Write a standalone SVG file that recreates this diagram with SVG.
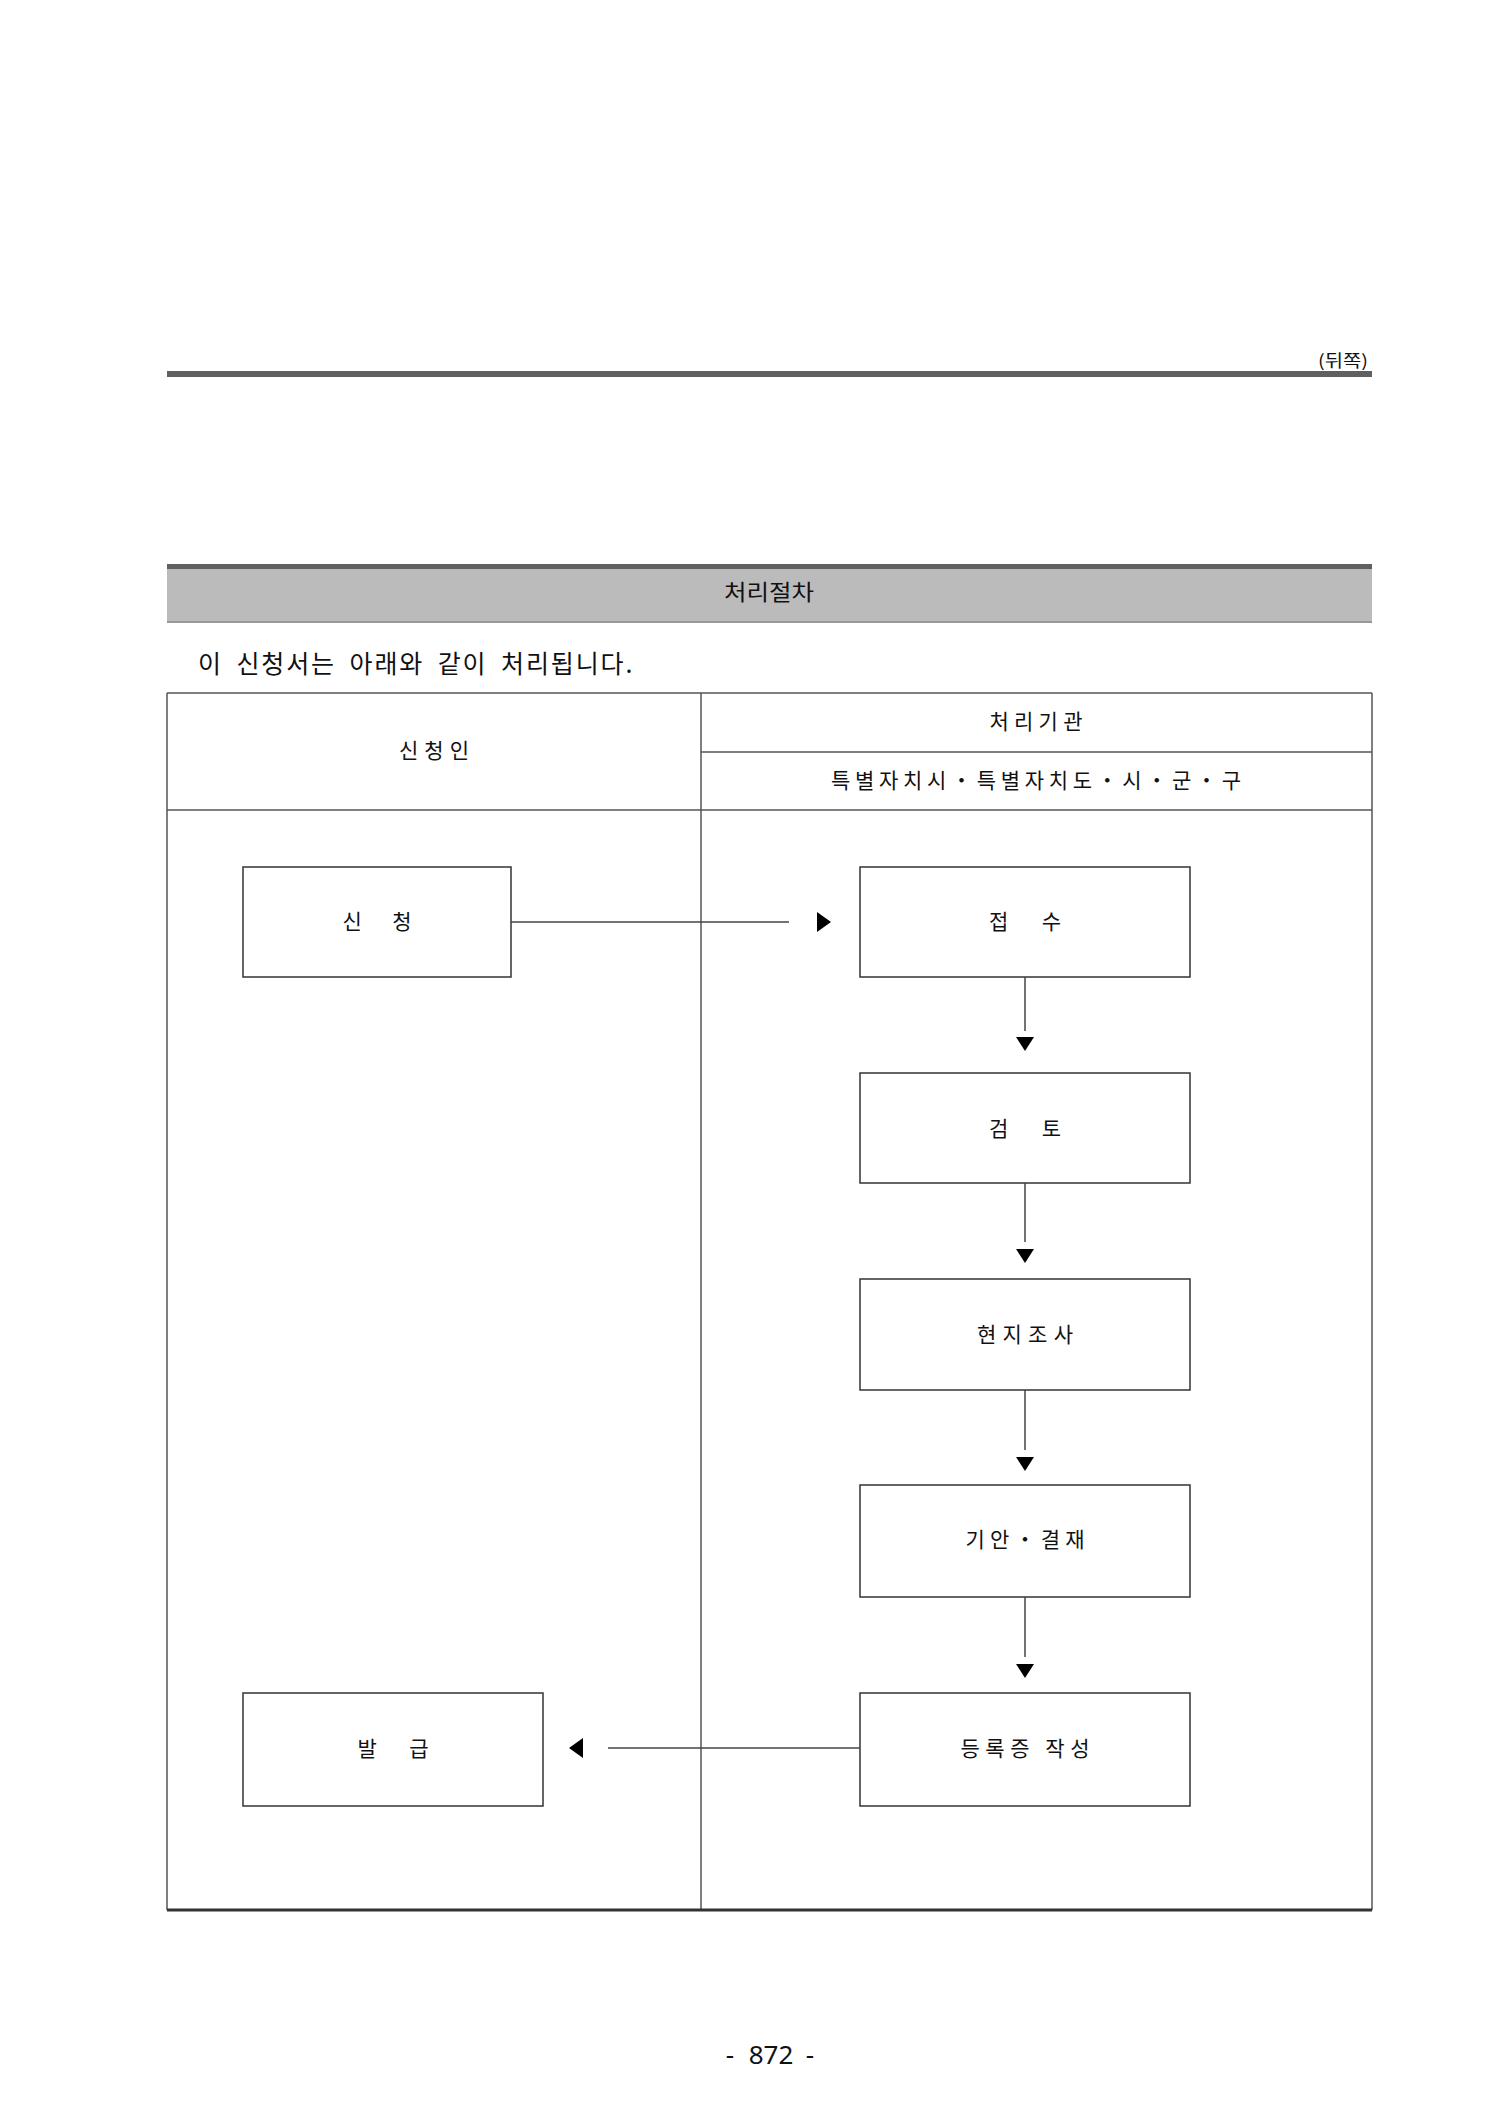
<svg xmlns="http://www.w3.org/2000/svg" width="1500" height="2114" viewBox="0 0 1500 2114">
<style>
text{font-family:"Noto Sans CJK KR","Noto Sans",sans-serif;fill:#111;}
.lbl{font-size:21px;text-anchor:middle;dominant-baseline:central;}
.box{fill:#fff;stroke:#333;stroke-width:1.5;}
.grid{stroke:#555;stroke-width:1.5;fill:none;}
.conn{stroke:#444;stroke-width:1.5;fill:none;}
.tri{fill:#000;}
.pg{font-family:"Noto Sans",sans-serif;font-size:26px;text-anchor:middle;dominant-baseline:central;}
</style>
<rect width="1500" height="2114" fill="#fff"/>
<!-- top -->
<text x="1368" y="359" font-size="17" text-anchor="end" dominant-baseline="central" textLength="50" lengthAdjust="spacingAndGlyphs">(뒤쪽)</text>
<rect x="167" y="371" width="1205" height="6" fill="#606060"/>
<!-- section header -->
<rect x="167" y="569" width="1205" height="53" fill="#bbbbbb"/>
<rect x="167" y="564" width="1205" height="5" fill="#606060"/>
<line x1="167" y1="622" x2="1372" y2="622" stroke="#999" stroke-width="2"/>
<text x="769" y="590" font-size="22" text-anchor="middle" dominant-baseline="central" textLength="90" lengthAdjust="spacingAndGlyphs">처리절차</text>
<text x="198" y="662" font-size="25" dominant-baseline="central" word-spacing="6" letter-spacing="1.9">이 신청서는 아래와 같이 처리됩니다.</text>
<!-- table -->
<g id="table">
<line class="grid" x1="167" y1="693" x2="1372" y2="693"/>
<line class="grid" x1="167" y1="693" x2="167" y2="1910"/>
<line class="grid" x1="1372" y1="693" x2="1372" y2="1910"/>
<line class="grid" x1="701" y1="693" x2="701" y2="1910"/>
<line class="grid" x1="701" y1="752" x2="1372" y2="752"/>
<line class="grid" x1="167" y1="810" x2="1372" y2="810"/>
<line x1="167" y1="1910" x2="1372" y2="1910" stroke="#333" stroke-width="3"/>
<text class="lbl" x="434" y="749" textLength="70" lengthAdjust="spacing">신청인</text>
<text class="lbl" x="1036" y="720" textLength="93" lengthAdjust="spacing">처리기관</text>
<text class="lbl" x="1036" y="779" textLength="410" lengthAdjust="spacing">특별자치시・특별자치도・시・군・구</text>
</g>
<!-- nodes -->
<g id="n-sincheong"><rect class="box" x="243" y="867" width="268" height="110"/><text class="lbl" x="377" y="920" textLength="69" lengthAdjust="spacing">신  청</text></g>
<g id="n-jeopsu"><rect class="box" x="860" y="867" width="330" height="110"/><text class="lbl" x="1025" y="920" textLength="72" lengthAdjust="spacing">접  수</text></g>
<g id="n-geomto"><rect class="box" x="860" y="1073" width="330" height="110"/><text class="lbl" x="1025" y="1127" textLength="72" lengthAdjust="spacing">검  토</text></g>
<g id="n-hyeonji"><rect class="box" x="860" y="1279" width="330" height="111"/><text class="lbl" x="1025" y="1333" textLength="96" lengthAdjust="spacing">현지조사</text></g>
<g id="n-gian"><rect class="box" x="860" y="1485" width="330" height="112"/><text class="lbl" x="1025" y="1538" textLength="119" lengthAdjust="spacing">기안・결재</text></g>
<g id="n-deungrok"><rect class="box" x="860" y="1693" width="330" height="113"/><text class="lbl" x="1025" y="1747" textLength="129" lengthAdjust="spacing">등록증 작성</text></g>
<g id="n-balgeup"><rect class="box" x="243" y="1693" width="300" height="113"/><text class="lbl" x="393" y="1747" textLength="71" lengthAdjust="spacing">발  급</text></g>
<!-- connectors -->
<g id="connectors">
<line class="conn" x1="511" y1="922" x2="789" y2="922"/>
<polygon class="tri" points="817,912 831,922 817,932"/>
<line class="conn" x1="1025" y1="977" x2="1025" y2="1031"/>
<polygon class="tri" points="1016,1037 1034,1037 1025,1051"/>
<line class="conn" x1="1025" y1="1183" x2="1025" y2="1242"/>
<polygon class="tri" points="1016,1249 1034,1249 1025,1263"/>
<line class="conn" x1="1025" y1="1390" x2="1025" y2="1450"/>
<polygon class="tri" points="1016,1457 1034,1457 1025,1471"/>
<line class="conn" x1="1025" y1="1597" x2="1025" y2="1657"/>
<polygon class="tri" points="1016,1664 1034,1664 1025,1678"/>
<line class="conn" x1="860" y1="1748" x2="608" y2="1748"/>
<polygon class="tri" points="583,1738 569,1748 583,1758"/>
</g>
<text class="pg" x="730" y="2054">-</text>
<text class="pg" x="771" y="2054">872</text>
<text class="pg" x="810" y="2054">-</text>
</svg>
